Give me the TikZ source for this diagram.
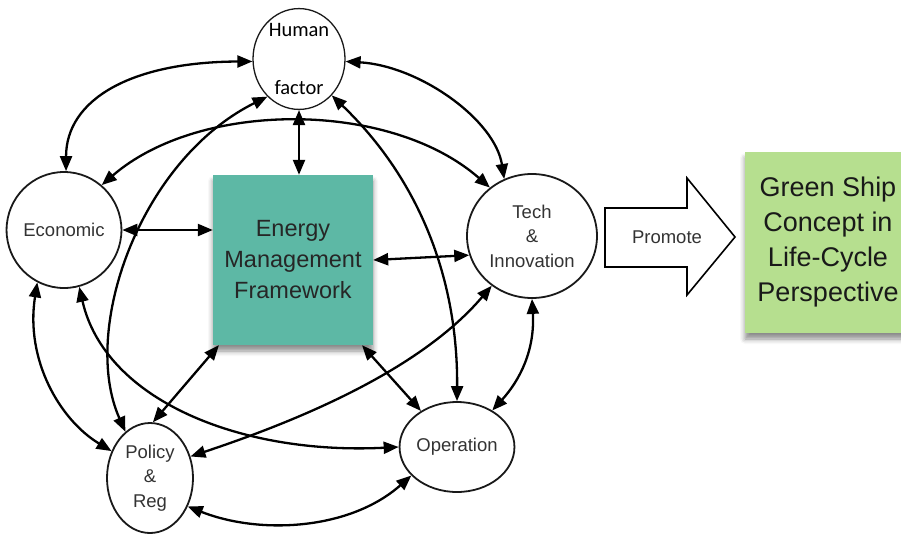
\documentclass[tikz,border=0pt]{standalone}
\usepackage{fontspec}
\setmainfont{Liberation Sans}
\newfontfamily\carl{Carlito}
\usetikzlibrary{arrows.meta,shadows.blur,shapes.geometric}
\definecolor{tealbox}{HTML}{5DB8A5}
\definecolor{greenbox}{HTML}{B6DF8F}
\definecolor{txt}{HTML}{333333}
\begin{document}
\begin{tikzpicture}[x=1pt,y=-1pt,
  ovalnode/.style={draw=black!90,line width=1.8pt,fill=white,ellipse,inner sep=0pt,
    text=txt,align=center,font=\fontsize{18.5}{24.5}\selectfont},
  dbl/.style={{Triangle[length=15pt,width=12pt]}-{Triangle[length=15pt,width=12pt]},line width=2.3pt,black},
  boxshadow/.style={blur shadow={shadow xshift=0pt,shadow yshift=-6pt,shadow blur radius=5pt,shadow opacity=45}}]
\useasboundingbox (0,0) rectangle (901,536);
\clip (0,0) rectangle (901,536);

% nodes
\node[ovalnode,minimum width=92pt,minimum height=92pt,line width=1.3pt,text=black,
  font=\carl\fontsize{20.5}{58}\selectfont] (hum) at (299,59) {Human\\factor};
\node[ovalnode,minimum width=110pt,minimum height=116pt] (eco) at (64,230) {Economic};
\node[ovalnode,minimum width=130pt,minimum height=124pt] (tech) at (532,236) {Tech\\\&\\Innovation};
\node[ovalnode,minimum width=86pt,minimum height=110pt] (pol) at (150,478) {Policy\\\&\\Reg};
\node[ovalnode,minimum width=104pt,minimum height=90pt] (op) at (457,447) {Operation};
\node[rectangle,fill=tealbox,minimum width=160pt,minimum height=170pt,boxshadow,
  text=black!85,align=center,font=\fontsize{23.5}{31}\selectfont] (en) at (293,260)
  {Energy\\Management\\Framework};
\node[rectangle,fill=greenbox,minimum width=166pt,minimum height=181pt,boxshadow,
  text=black!90,align=center,font=\fontsize{27}{35}\selectfont] (gs) at (828,242.5)
  {Green Ship\\Concept in\\Life-Cycle\\Perspective};

% promote arrow
\draw[line width=1.6pt,fill=white] (605,208) -- (687,208) -- (687,178) -- (735,237)
  -- (687,295) -- (687,267) -- (605,267) -- cycle;
\node[text=txt,font=\fontsize{18.5}{22}\selectfont] (prom) at (667,237) {Promote};

% connectors
\draw[dbl] (hum.183) .. controls (130,62) and (66,100) .. (eco.88);
\draw[dbl] (hum.357) .. controls (420,66) and (495,120) .. (tech.116);
\draw[dbl] (hum.south) -- (hum.south |- en.north);
\draw[dbl] (eco.east) -- (eco.east -| en.west);
\draw[dbl] (en.east) -- (tech.197);
\draw[dbl] (eco.50) .. controls (200,100) and (390,100) .. (tech.131);
\draw[dbl] (hum.230) .. controls (140,160) and (80,330) .. (pol.118);
\draw[dbl] (hum.312) .. controls (420,180) and (458,280) .. (op.north);
\draw[dbl] (eco.243) .. controls (25,360) and (60,420) .. (pol.145);
\draw[dbl] (eco.285) .. controls (105,400) and (240,455) .. (op.west);
\draw[dbl] (en.229) -- (pol.87);
\draw[dbl] (en.309) -- (op.135);
\draw[dbl] (tech.231) .. controls (420,370) and (300,420) .. (pol.28);
\draw[dbl] (tech.south) .. controls (535,350) and (520,380) .. (op.46);
\draw[dbl] (pol.323) .. controls (260,535) and (350,530) .. (op.212);
\end{tikzpicture}
\end{document}
